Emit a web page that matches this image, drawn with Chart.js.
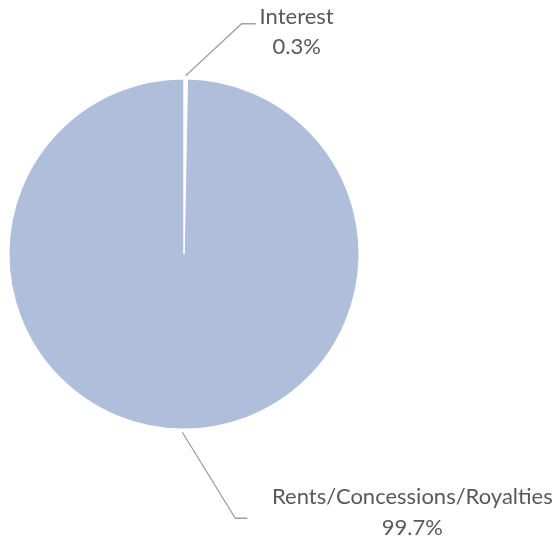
<!DOCTYPE html>
<html>
<head>
<meta charset="utf-8">
<script src="https://cdn.jsdelivr.net/npm/chart.js@4/dist/chart.umd.min.js"></script>
<style>
  html, body { margin: 0; padding: 0; background: #ffffff; }
  #wrap { width: 557px; height: 538px; position: relative; }
</style>
</head>
<body>
<div id="wrap"><canvas id="c" width="557" height="538"></canvas></div>
<script>
// Revenue sources, share of total (%)
const categories = ["Interest", "Rents/Concessions/Royalties"];
const shares = [0.3, 99.7];
const percentLabels = ["0.3%", "99.7%"];

const sliceColors = ["#ffffff", "#afbfdb"];
const labelFont = "22px Lato, 'Open Sans', sans-serif";
const textColor = "#595959";
const leaderColor = "#a0a0a0";

// Per-slice callout geometry: elbow offset from the slice's rim point,
// horizontal tail length, and text placement relative to the tail end.
const callouts = [
  { elbow: [56, -55], tail: 14, textDx: 41, line1Dy: -7, line2Dy: 23 },
  { elbow: [53, 89], tail: 12, textDx: 165, line1Dy: -21, line2Dy: 10 }
];

const calloutPlugin = {
  id: "callouts",
  afterDraw(chart) {
    const ctx = chart.ctx;
    const meta = chart.getDatasetMeta(0);
    meta.data.forEach((arc, i) => {
      const p = arc.getProps(["x", "y", "startAngle", "endAngle", "outerRadius"], true);
      const mid = (p.startAngle + p.endAngle) / 2;
      const rim = [p.x + Math.cos(mid) * p.outerRadius, p.y + Math.sin(mid) * p.outerRadius];
      const start = [p.x + Math.cos(mid) * (p.outerRadius + 3), p.y + Math.sin(mid) * (p.outerRadius + 3)];
      const c = callouts[i];
      const elbow = [rim[0] + c.elbow[0], rim[1] + c.elbow[1]];
      const end = [elbow[0] + c.tail, elbow[1]];
      ctx.save();
      ctx.strokeStyle = leaderColor;
      ctx.lineWidth = 1.3;
      ctx.beginPath();
      ctx.moveTo(start[0], start[1]);
      ctx.lineTo(elbow[0], elbow[1]);
      ctx.lineTo(end[0], end[1]);
      ctx.stroke();
      ctx.fillStyle = textColor;
      ctx.font = labelFont;
      ctx.textAlign = "center";
      ctx.textBaseline = "middle";
      const tx = end[0] + c.textDx;
      ctx.fillText(categories[i], tx, end[1] + c.line1Dy);
      ctx.fillText(percentLabels[i], tx, end[1] + c.line2Dy);
      ctx.restore();
    });
  }
};

new Chart(document.getElementById("c"), {
  type: "pie",
  data: {
    labels: categories,
    datasets: [{
      data: shares,
      backgroundColor: sliceColors,
      borderColor: "#ffffff",
      borderWidth: 1.5
    }]
  },
  options: {
    responsive: false,
    animation: false,
    layout: { padding: { left: 8, right: 197, top: 78, bottom: 108 } },
    plugins: {
      legend: { display: false },
      tooltip: { enabled: false }
    }
  },
  plugins: [calloutPlugin]
});
</script>
</body>
</html>
